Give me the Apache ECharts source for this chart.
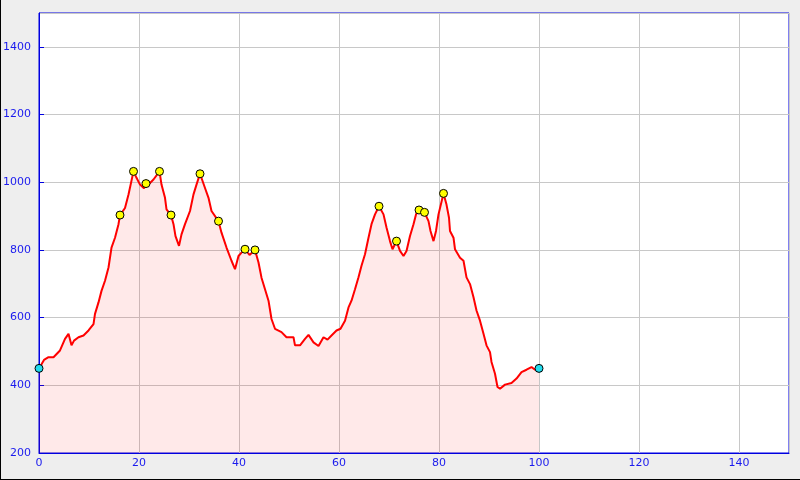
<!DOCTYPE html>
<html><head><meta charset="utf-8">
<script src="https://cdn.jsdelivr.net/npm/echarts@6/dist/echarts.min.js"></script>
<style>html,body{margin:0;padding:0;background:#eeeeee;}#c{width:800px;height:480px;}</style>
</head><body><div id="c"></div>
<script>
const dist = [0,0.5,1.0,1.9,2.9,4.2,5.2,5.9,6.5,7.0,7.9,8.9,9.9,10.9,11.2,11.9,12.5,13.2,13.9,14.5,15.2,15.9,16.2,17.2,17.9,18.9,19.5,20.2,21.0,21.4,22.0,22.9,24.1,24.5,25.2,25.5,26.4,26.9,27.3,28.0,28.5,29.2,30.2,30.9,31.5,32.2,33.2,33.9,34.5,35.9,36.5,37.5,38.5,39.2,39.9,40.5,41.2,42.1,43.2,43.9,44.5,45.2,45.9,46.5,47.2,48.5,49.5,50.9,51.2,52.2,53.2,53.9,54.9,55.9,56.9,57.7,58.5,59.5,60.3,61.2,61.9,62.5,63.2,63.9,64.5,65.2,65.9,66.5,67.2,68.0,68.9,69.5,70.2,70.7,71.5,72.2,72.9,73.5,74.2,74.9,75.4,76.0,77.1,77.9,78.3,78.9,79.4,79.9,80.9,81.5,82.0,82.2,82.9,83.2,84.2,84.9,85.5,86.2,86.9,87.5,88.2,88.9,89.5,90.2,90.5,91.2,91.7,92.2,93.2,94.5,95.5,96.5,97.5,98.5,99.2,100];
const elev = [450,462,475,483,483,503,537,552,518,532,542,547,562,581,611,645,679,709,748,807,836,876,903,924,964,1032,1013,993,982,996,995,1008,1032,993,954,920,903,876,841,812,846,876,915,964,993,1025,983,954,915,885,851,807,768,743,782,792,802,785,800,763,718,684,650,596,567,557,542,542,518,518,537,549,527,516,542,535,547,562,567,591,630,650,684,719,753,787,836,876,905,929,905,866,826,802,826,797,782,797,841,876,905,918,911,885,856,826,856,905,967,934,895,856,836,802,777,768,719,699,660,621,591,552,518,498,469,434,395,390,402,407,420,439,446,454,446,450];
const peakDist = [16.2,18.9,21.4,24.1,26.4,32.2,35.9,41.2,43.2,68.0,71.5,76.0,77.1,80.9];
const peakElev = [903,1032,996,1032,903,1025,885,802,800,929,826,918,911,967];
const endDist = [0,100];
const endElev = [450,450];
const xTicks = [0,20,40,60,80,100,120,140];
const yTicks = [200,400,600,800,1000,1200,1400];

const chart = echarts.init(document.getElementById('c'), null, {renderer:'canvas'});
const font = {color:'#1a1aee', fontFamily:'DejaVu Sans', fontSize:11};
chart.setOption({
  backgroundColor:'#eeeeee',
  animation:false,
  grid:{left:39,right:11,top:13,bottom:27,show:true,backgroundColor:'#ffffff',borderColor:'#0000e0',borderWidth:1},
  xAxis:{type:'value',min:0,max:150,interval:20,
    axisLine:{show:true,lineStyle:{color:'#0000e0'}},
    axisTick:{show:false},
    splitLine:{show:true,lineStyle:{color:'#c8c8c8',width:1}},
    axisLabel:Object.assign({margin:5,showMaxLabel:false,formatter:v=>xTicks.includes(v)?String(v):''},font)},
  yAxis:{type:'value',min:200,max:1500,interval:200,
    axisLine:{show:true,lineStyle:{color:'#0000e0'}},
    axisTick:{show:true,inside:true,length:5,lineStyle:{color:'#0000e0'}},
    splitLine:{show:true,lineStyle:{color:'#c8c8c8',width:1}},
    axisLabel:Object.assign({margin:8,showMaxLabel:false,formatter:v=>yTicks.includes(v)?String(v):''},font)},
  series:[
    {type:'line',data:dist.map((d,i)=>[d,elev[i]]),showSymbol:false,symbol:'none',
     lineStyle:{color:'#ff0000',width:2},
     areaStyle:{color:'rgba(255,0,0,0.125)',origin:'start'},z:2},
    {type:'scatter',data:peakDist.map((d,i)=>[d,peakElev[i]]),symbol:'circle',symbolSize:8,
     itemStyle:{color:'#ffff00',borderColor:'#000000',borderWidth:1,opacity:1},z:3},
    {type:'scatter',data:endDist.map((d,i)=>[d,endElev[i]]),symbol:'circle',symbolSize:8,
     itemStyle:{color:'#22ddee',borderColor:'#000000',borderWidth:1,opacity:1},z:3}
  ],
  graphic:[
    {type:'line',shape:{x1:0.5,y1:0,x2:0.5,y2:480},style:{stroke:'#000',lineWidth:1},silent:true},
    {type:'line',shape:{x1:0,y1:479.5,x2:800,y2:479.5},style:{stroke:'#000',lineWidth:1},silent:true}
  ]
});
</script></body></html>
